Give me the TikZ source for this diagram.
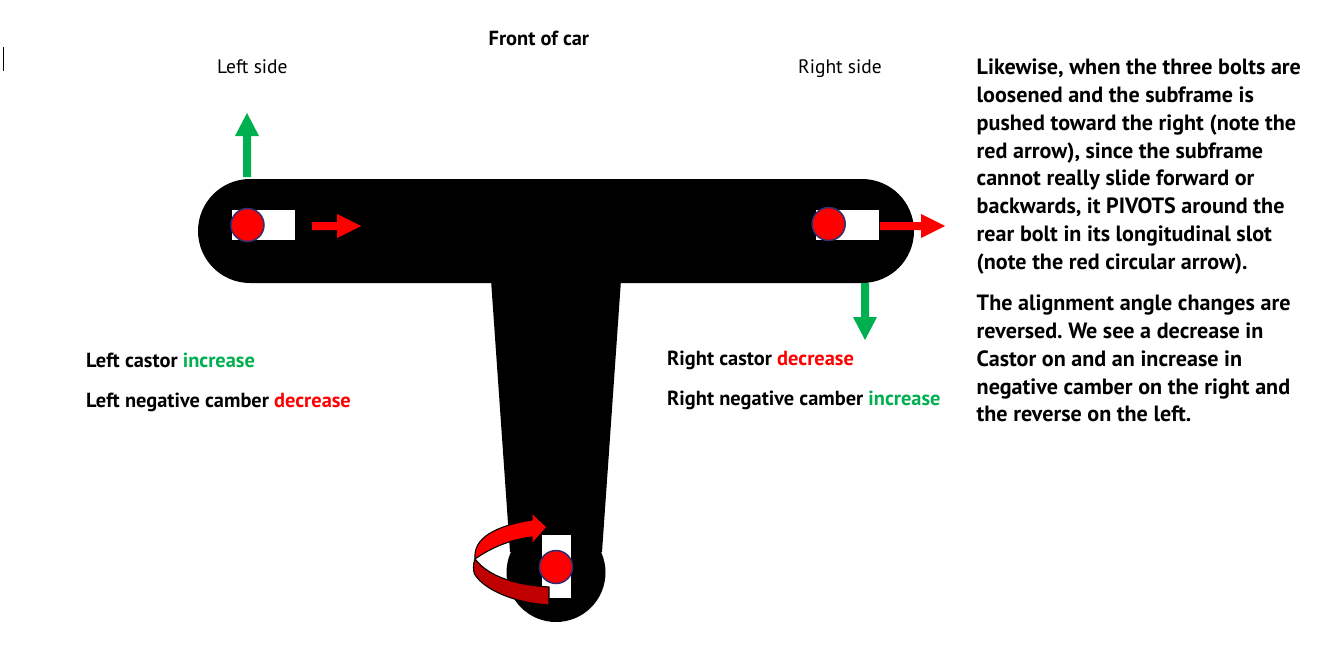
\documentclass[tikz,border=0pt]{standalone}
\usepackage{fontspec}
\setmainfont{PT Sans}
\frenchspacing
\definecolor{grn}{HTML}{00B050}
\definecolor{rd}{HTML}{FF0000}
\definecolor{drd}{HTML}{C00000}
\definecolor{bolt}{HTML}{2F3070}
\tikzset{
  slot/.style={fill=white,draw=none},
  bolt/.style={circle,fill=rd,draw=bolt,line width=1.5pt,minimum size=33pt,inner sep=0pt},
  lbl/.style={anchor=base west,inner sep=0pt,font=\fontsize{20.4}{24}\selectfont\bfseries},
  plain/.style={anchor=base west,inner sep=0pt,font=\fontsize{19.5}{24}\selectfont},
  para/.style={anchor=north west,inner sep=0pt,align=left,font=\fontsize{22.1}{27.75}\selectfont\bfseries}
}
\newcommand{\uparr}[5]{\fill[#1] (#2-4,#3) -- (#2-4,#5) -- (#2-12,#5) -- (#2,#4) -- (#2+12,#5) -- (#2+4,#5) -- (#2+4,#3) -- cycle;}
\newcommand{\rarr}[5]{\fill[#1] (#2,#3-4) -- (#5,#3-4) -- (#5,#3-12) -- (#4,#3) -- (#5,#3+12) -- (#5,#3+4) -- (#2,#3+4) -- cycle;}
\begin{document}
\begin{tikzpicture}[x=1pt,y=-1pt]
\useasboundingbox (0,0) rectangle (1324,650);
% T body
\fill[black] (250,179) -- (862,179) arc[start angle=-90,end angle=90,radius=52] -- (250,283)
  arc[start angle=90,end angle=270,radius=52] -- cycle;
\fill[black] (491,280) -- (621,280) -- (602,552) -- (510,552) -- cycle;
\fill[black] (556,572.5) circle[radius=49.5];
% slots
\fill[slot] (232,210) rectangle (295,240);
\fill[slot] (816,210) rectangle (879,240);
\fill[slot] (542,535) rectangle (571,598);
% bolts
\node[bolt] (boltL) at (247.5,225) {};
\node[bolt] (boltR) at (828.7,224) {};
\node[bolt] (boltB) at (556,567) {};
% straight arrows
\uparr{grn}{247}{177}{113}{136}
\uparr{grn}{865}{283}{340}{317}
\rarr{rd}{312}{226}{361}{337}
\rarr{rd}{880}{226}{945}{921}
% circular arrow
\draw[fill=drd,line width=1.1pt,line join=round] (475,559) .. controls (473,564) and (473,570) .. (474.5,574)
  .. controls (484,590) and (515,603) .. (549,605) -- (549,587)
  .. controls (518,585) and (490,578) .. (475,559) -- cycle;
\draw[fill=rd,line width=1.1pt,line join=round] (475,559)
  .. controls (473,538) and (495,526) .. (532,520) -- (532,513) -- (547,527) -- (532,544) -- (532,537)
  .. controls (505,540) and (485,552) .. (475,559) -- cycle;
% cursor
\draw[black,line width=0.8pt] (3,47) -- (3,71);
% text
\node[lbl] (front) at (488.5,45.5) {Front of car};
\node[plain] (lside) at (217,73.5) {Left side};
\node[plain] (rside) at (798,73.5) {Right side};
\node[lbl] (lc) at (86,367) {Left castor \textcolor{grn}{increase}};
\node[lbl] (lnc) at (86,407) {Left negative camber \textcolor{rd}{decrease}};
\node[lbl] (rc) at (667,365) {Right castor \textcolor{rd}{decrease}};
\node[lbl] (rnc) at (667,405) {Right negative camber \textcolor{grn}{increase}};
\node[para] (p1) at (976.5,59) {Likewise, when the three bolts are\\loosened and the subframe is\\pushed toward the right (note the\\red arrow), since the subframe\\cannot really slide forward or\\backwards, it PIVOTS around the\\rear bolt in its longitudinal slot\\(note the red circular arrow).};
\node[para] (p2) at (976.5,295) {The alignment angle changes are\\reversed. We see a decrease in\\Castor on and an increase in\\negative camber on the right and\\the reverse on the left.};
\end{tikzpicture}
\end{document}
